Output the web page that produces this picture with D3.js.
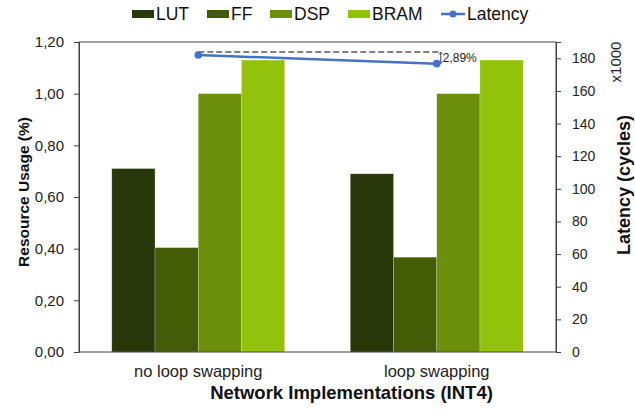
<!DOCTYPE html>
<html>
<head>
<meta charset="utf-8">
<script src="https://cdn.jsdelivr.net/npm/d3@7"></script>
<style>
  body { margin: 0; background: #fff; }
  svg { font-family: "Liberation Sans", Arial, sans-serif; }
</style>
</head>
<body>
<svg width="635" height="415"></svg>
<script>
  const categories = ["no loop swapping", "loop swapping"];
  const resources = ["LUT", "FF", "DSP", "BRAM"];
  const colors = ["#29380a", "#445c06", "#6b8f0a", "#93c20c"];
  const usage = {
    LUT:  [0.71, 0.69],
    FF:   [0.404, 0.367],
    DSP:  [1.00, 1.00],
    BRAM: [1.13, 1.13]
  };
  const latency = [182.0, 176.74]; // x1000 cycles
  const leftTicks = [0, 0.2, 0.4, 0.6, 0.8, 1.0, 1.2];
  const rightTicks = [0, 20, 40, 60, 80, 100, 120, 140, 160, 180];
  const diffLabel = "2,89%";

  const margin = { top: 42, right: 79, bottom: 63, left: 79 };
  const width = 635, height = 415;
  const w = width - margin.left - margin.right;
  const h = height - margin.top - margin.bottom;

  const svg = d3.select("svg");
  const g = svg.append("g").attr("transform", `translate(${margin.left},${margin.top})`);

  const x0 = d3.scaleBand().domain(categories).range([0, w])
    .paddingInner(0.275).paddingOuter(0.1375);
  const x1 = d3.scaleBand().domain(resources).range([0, x0.bandwidth()]);
  const y = d3.scaleLinear().domain([0, 1.2]).range([h, 0]);
  const yR = d3.scaleLinear().domain([0, 190]).range([h, 0]);
  const fmt = d3.format(".2f");

  // bars
  const groups = g.selectAll(".grp")
    .data(categories)
    .enter().append("g")
    .attr("transform", d => `translate(${x0(d)},0)`);

  groups.selectAll("rect")
    .data((c, ci) => resources.map((r, ri) => ({ r, ri, v: usage[r][ci] })))
    .enter().append("rect")
    .attr("x", d => x1(d.r))
    .attr("y", d => y(d.v))
    .attr("width", x1.bandwidth())
    .attr("height", d => h - y(d.v))
    .attr("fill", d => colors[d.ri])
    .attr("stroke", "rgba(255,255,255,0.35)")
    .attr("stroke-width", 0.6);

  // frame
  g.append("rect")
    .attr("width", w).attr("height", h)
    .attr("fill", "none").attr("stroke", "#404040").attr("stroke-width", 1);

  // left axis
  const yAxis = g.append("g")
    .call(d3.axisLeft(y).tickValues(leftTicks).tickSize(5).tickPadding(10)
      .tickFormat(d => fmt(d).replace(".", ",")));
  yAxis.select(".domain").attr("stroke", "#404040");
  yAxis.selectAll("line").attr("stroke", "#404040");
  yAxis.selectAll("text").attr("font-size", 15).attr("fill", "#222")
    .attr("font-family", "Liberation Sans, Arial, sans-serif");

  // right axis
  const yAxisR = g.append("g")
    .attr("transform", `translate(${w},0)`)
    .call(d3.axisRight(yR).tickValues(rightTicks).tickSize(5).tickPadding(11));
  yAxisR.select(".domain").attr("stroke", "#404040");
  yAxisR.selectAll("line").attr("stroke", "#404040");
  yAxisR.selectAll("text").attr("font-size", 14).attr("fill", "#222")
    .attr("font-family", "Liberation Sans, Arial, sans-serif");

  // category labels
  g.selectAll(".cat")
    .data(categories)
    .enter().append("text")
    .attr("x", d => x0(d) + x0.bandwidth() / 2)
    .attr("y", h + 25)
    .attr("text-anchor", "middle")
    .attr("font-size", 16.5)
    .attr("fill", "#222")
    .text(d => d);

  // axis titles
  svg.append("text")
    .attr("x", margin.left + w / 2 + 34)
    .attr("y", 399)
    .attr("text-anchor", "middle")
    .attr("font-size", 18.5).attr("font-weight", "bold").attr("fill", "#111")
    .text("Network Implementations (INT4)");

  svg.append("text")
    .attr("transform", "translate(29,192) rotate(-90)")
    .attr("text-anchor", "middle")
    .attr("font-size", 15.5).attr("font-weight", "bold").attr("fill", "#111")
    .text("Resource Usage (%)");

  svg.append("text")
    .attr("transform", "translate(630,185) rotate(-90)")
    .attr("text-anchor", "middle")
    .attr("font-size", 18).attr("font-weight", "bold").attr("fill", "#111")
    .text("Latency (cycles)");

  svg.append("text")
    .attr("transform", "translate(621,62) rotate(-90)")
    .attr("text-anchor", "middle")
    .attr("font-size", 15).attr("fill", "#222")
    .text("x1000");

  // latency line
  const cx = d => x0(d) + x0.bandwidth() / 2;
  const lat = categories.map((c, i) => ({ c, v: latency[i] }));

  // difference annotation
  const yTop = yR(latency[0]) - 3;
  const xEnd = cx(categories[1]) + 4;
  g.append("line")
    .attr("x1", cx(categories[0])).attr("x2", xEnd)
    .attr("y1", yTop).attr("y2", yTop)
    .attr("stroke", "#595959").attr("stroke-width", 1.5)
    .attr("stroke-dasharray", "6,3");
  g.append("line")
    .attr("x1", xEnd).attr("x2", xEnd)
    .attr("y1", yTop).attr("y2", yR(latency[1]))
    .attr("stroke", "#404040").attr("stroke-width", 1);
  [yTop, yR(latency[1])].forEach((yy, i) => {
    const s = i === 0 ? 1 : -1;
    g.append("path")
      .attr("d", `M${xEnd - 2},${yy + 2.5 * s}L${xEnd},${yy}L${xEnd + 2},${yy + 2.5 * s}`)
      .attr("fill", "none").attr("stroke", "#404040").attr("stroke-width", 0.8);
  });
  g.append("text")
    .attr("x", xEnd + 2)
    .attr("y", (yTop + yR(latency[1])) / 2 + 4)
    .attr("font-size", 12).attr("fill", "#222")
    .text(diffLabel);

  g.append("path")
    .datum(lat)
    .attr("fill", "none")
    .attr("stroke", "#4472c4")
    .attr("stroke-width", 2.5)
    .attr("d", d3.line().x(d => cx(d.c)).y(d => yR(d.v)));

  g.selectAll(".pt")
    .data(lat)
    .enter().append("circle")
    .attr("cx", d => cx(d.c))
    .attr("cy", d => yR(d.v))
    .attr("r", 3.8)
    .attr("fill", "#4472c4");

  // legend
  const legendItems = [
    { name: "LUT", x: 132 },
    { name: "FF", x: 207 },
    { name: "DSP", x: 270 },
    { name: "BRAM", x: 348 }
  ];
  const lg = svg.append("g");
  legendItems.forEach((it, i) => {
    lg.append("rect")
      .attr("x", it.x).attr("y", 10)
      .attr("width", 22).attr("height", 8)
      .attr("fill", colors[i]);
    lg.append("text")
      .attr("x", it.x + 24).attr("y", 19.5)
      .attr("font-size", 17.5).attr("fill", "#111")
      .text(it.name);
  });
  lg.append("line")
    .attr("x1", 441).attr("x2", 465).attr("y1", 14).attr("y2", 14)
    .attr("stroke", "#4472c4").attr("stroke-width", 2.5);
  lg.append("circle").attr("cx", 453).attr("cy", 14).attr("r", 3.5).attr("fill", "#4472c4");
  lg.append("text")
    .attr("x", 467).attr("y", 19.5)
    .attr("font-size", 17.5).attr("fill", "#111")
    .text("Latency");
</script>
</body>
</html>
